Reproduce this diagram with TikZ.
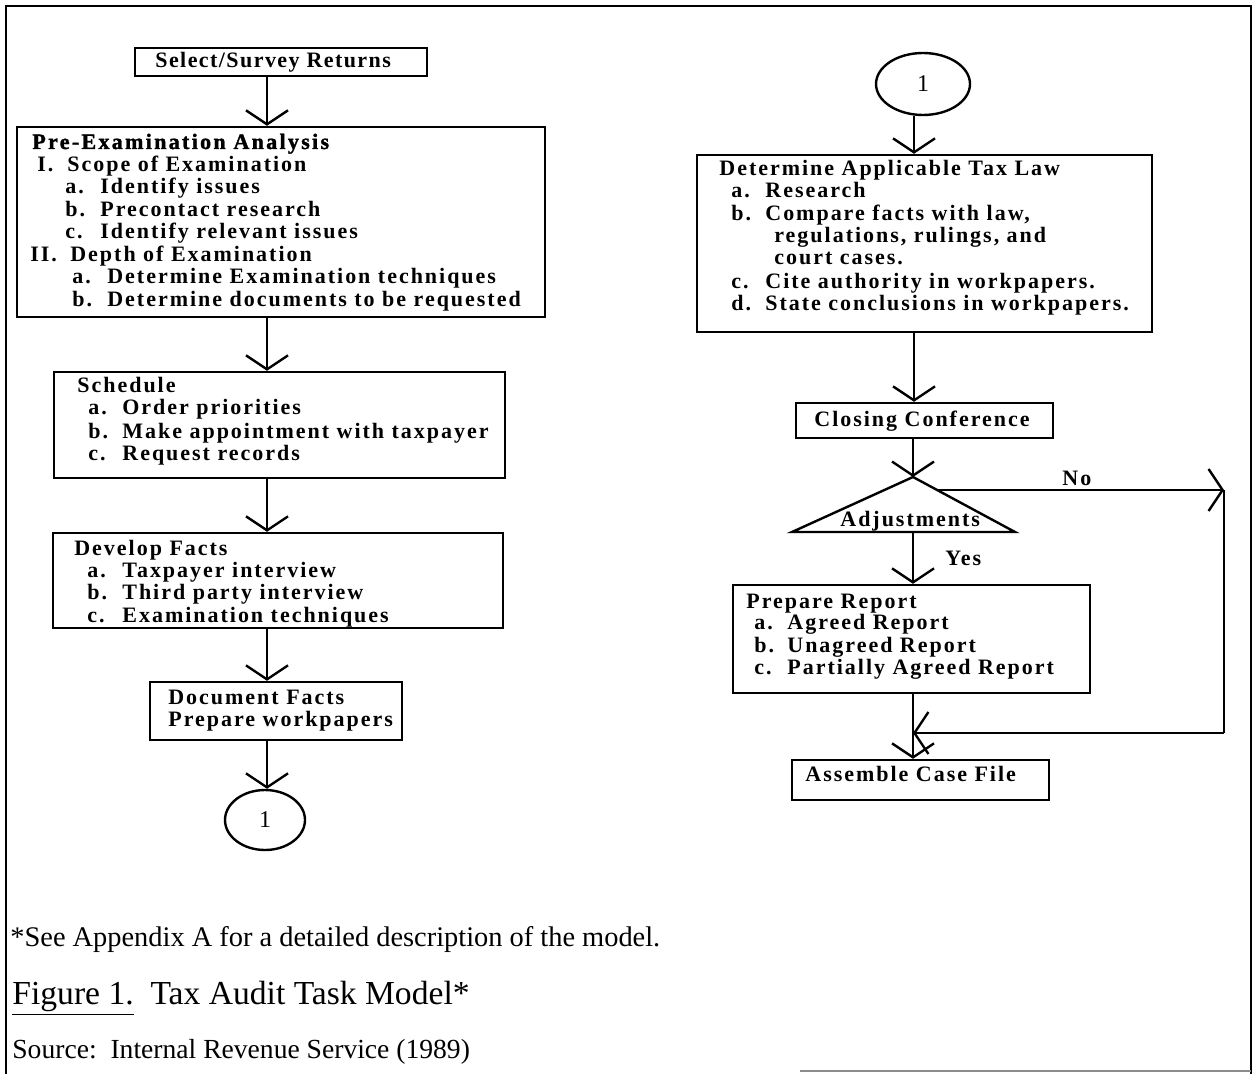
\documentclass[tikz,border=0pt]{standalone}
\usepackage{fontspec}
\setmainfont{Liberation Serif}
\newfontfamily\boxfont{Liberation Serif}[LetterSpace=9]
\newfontfamily\selfont{Liberation Serif}[LetterSpace=6.5]
\newfontfamily\headfont{Liberation Serif}[LetterSpace=10.5, FakeBold=1.5]
\usetikzlibrary{arrows.meta,fit,shapes.geometric}
\newcommand\lblitem[3]{\makebox[#1][l]{#2}#3}
\begin{document}
\begin{tikzpicture}[x=0.5pt,y=-0.5pt,
  boxst/.style={draw, line width=1.2pt, inner sep=0pt},
  ln/.style={line width=1.2pt},
  arr/.style={line width=1.2pt, -{Straight Barb[length=7pt,width=21pt,line width=1.2pt]}},
  txt/.style={anchor=base west, inner sep=0pt, font=\boxfont\bfseries\fontsize{11}{12}\selectfont},
  foot/.style={anchor=base west, inner sep=0pt}]
\useasboundingbox (0,0) rectangle (1256,1074);
% frame
\draw[line width=1.2pt] (6,1074) -- (6,6) -- (1251,6) -- (1251,1074);
\draw[line width=0.8pt, black!45] (800,1071) -- (1251,1071);

% column x
\coordinate (xL) at (267,0);
\coordinate (xR) at (914,0);

% ---------- left column ----------
\node[boxst, fit={(135,48) (427,76)}] (sel) {};
\node[anchor=base west, inner sep=0pt, font=\selfont\bfseries\fontsize{11}{12}\selectfont] (selt) at (155,68) {Select/Survey Returns};

\node[boxst, fit={(17,127) (545,317)}] (pre) {};
\node[anchor=base west, inner sep=0pt, font=\headfont\bfseries\fontsize{11}{12}\selectfont] (pre1) at (32,149) {Pre-Examination Analysis};
\node[txt] (pre2) at (37,172) {\lblitem{15pt}{I.}{Scope of Examination}};
\node[txt] (pre3) at (65,194) {\lblitem{17.5pt}{a.}{Identify issues}};
\node[txt] (pre4) at (65,217) {\lblitem{17.5pt}{b.}{Precontact research}};
\node[txt] (pre5) at (65,239) {\lblitem{17.5pt}{c.}{Identify relevant issues}};
\node[txt] (pre6) at (30,262) {\lblitem{20pt}{II.}{Depth of Examination}};
\node[txt] (pre7) at (72,284) {\lblitem{17.5pt}{a.}{Determine Examination techniques}};
\node[txt] (pre8) at (72,307) {\lblitem{17.5pt}{b.}{Determine documents to be requested}};

\node[boxst, fit={(54,372) (505,478)}] (sch) {};
\node[txt] (sch1) at (77,393) {Schedule};
\node[txt] (sch2) at (88,415) {\lblitem{17pt}{a.}{Order priorities}};
\node[txt] (sch3) at (88,438) {\lblitem{17pt}{b.}{Make appointment with taxpayer}};
\node[txt] (sch4) at (88,460) {\lblitem{17pt}{c.}{Request records}};

\node[boxst, fit={(53,533) (503,628)}] (dev) {};
\node[txt] (dev1) at (74,555) {Develop Facts};
\node[txt] (dev2) at (87,577) {\lblitem{17.5pt}{a.}{Taxpayer interview}};
\node[txt] (dev3) at (87,599) {\lblitem{17.5pt}{b.}{Third party interview}};
\node[txt] (dev4) at (87,622) {\lblitem{17.5pt}{c.}{Examination techniques}};

\node[boxst, fit={(150,682) (402,740)}] (doc) {};
\node[txt] (doc1) at (168,704) {Document Facts};
\node[txt] (doc2) at (168,726) {Prepare workpapers};

\node[draw, ellipse, line width=1.2pt, minimum width=40pt, minimum height=30pt, inner sep=0pt,
      font=\fontsize{12}{13}\selectfont] (cL) at (265,820) {1};

\draw[arr] (sel.south -| xL) -- (pre.north -| xL);
\draw[arr] (pre.south -| xL) -- (sch.north -| xL);
\draw[arr] (sch.south -| xL) -- (dev.north -| xL);
\draw[arr] (dev.south -| xL) -- (doc.north -| xL);
\draw[arr] (doc.south -| xL) -- (cL.north -| xL);

% ---------- right column ----------
\node[draw, ellipse, line width=1.2pt, minimum width=47pt, minimum height=31pt, inner sep=0pt,
      font=\fontsize{12}{13}\selectfont] (cR) at (923,84) {1};

\node[boxst, fit={(697,155) (1152,332)}] (det) {};
\node[txt] (det1) at (719,176) {Determine Applicable Tax Law};
\node[txt] (det2) at (731,198) {\lblitem{17pt}{a.}{Research}};
\node[txt] (det3) at (731,221) {\lblitem{17pt}{b.}{Compare facts with law,}};
\node[txt] (det4) at (774,243) {regulations, rulings, and};
\node[txt] (det5) at (774,265) {court cases.};
\node[txt] (det6) at (731,289) {\lblitem{17pt}{c.}{Cite authority in workpapers.}};
\node[txt] (det7) at (731,311) {\lblitem{17pt}{d.}{State conclusions in workpapers.}};

\node[boxst, fit={(796,403) (1053,438)}] (clo) {};
\node[txt] (clo1) at (814,426) {Closing Conference};

\coordinate (adjTop) at (913,477);
\coordinate (adjL) at (792,532);
\coordinate (adjR) at (1015,532);
\coordinate (adjB) at (913,532);
\draw[line width=1.2pt, line join=miter] (adjL) -- (adjTop) -- (adjR) -- cycle;
\node[txt] (adjt) at (840,526) {Adjustments};

\node[boxst, fit={(733,585) (1090,693)}] (prep) {};
\node[txt] (prep1) at (746,608) {Prepare Report};
\node[txt] (prep2) at (754,629) {\lblitem{16.5pt}{a.}{Agreed Report}};
\node[txt] (prep3) at (754,652) {\lblitem{16.5pt}{b.}{Unagreed Report}};
\node[txt] (prep4) at (754,674) {\lblitem{16.5pt}{c.}{Partially Agreed Report}};

\node[boxst, fit={(792,760) (1049,800)}] (asm) {};
\node[txt] (asm1) at (805,781) {Assemble Case File};

\coordinate (noStart) at (937,490);
\coordinate (noCorner) at (1224,490);
\coordinate (noLow) at (1224,733);
\coordinate (join) at (913,733);

\draw[arr] (cR.south -| xR) -- (det.north -| xR);
\draw[arr] (det.south -| xR) -- (clo.north -| xR);
\draw[arr] (clo.south -| adjTop) -- (adjTop);
\draw[arr] (adjB) -- (prep.north -| adjB);
\draw[arr] (prep.south -| adjB) -- (asm.north -| adjB);
\draw[arr] (noStart) -- (noCorner);
\draw[ln] (noCorner) -- (noLow);
\draw[arr] (noLow) -- (join);
\node[txt] (no) at (1062,485) {No};
\node[txt] (yes) at (945,565) {Yes};

% ---------- footer ----------
\node[foot, font=\fontsize{14.2}{16}\selectfont] (fn) at (10,946) {*See Appendix A for a detailed description of the model.};
\node[foot, font=\fontsize{16.8}{19}\selectfont] (fig) at (12,1004) {\underline{Figure 1.}\ \ Tax Audit Task Model*};
\node[foot, font=\fontsize{13.8}{15}\selectfont] (src) at (12,1058) {Source:\ \ Internal Revenue Service (1989)};
\end{tikzpicture}
\end{document}
